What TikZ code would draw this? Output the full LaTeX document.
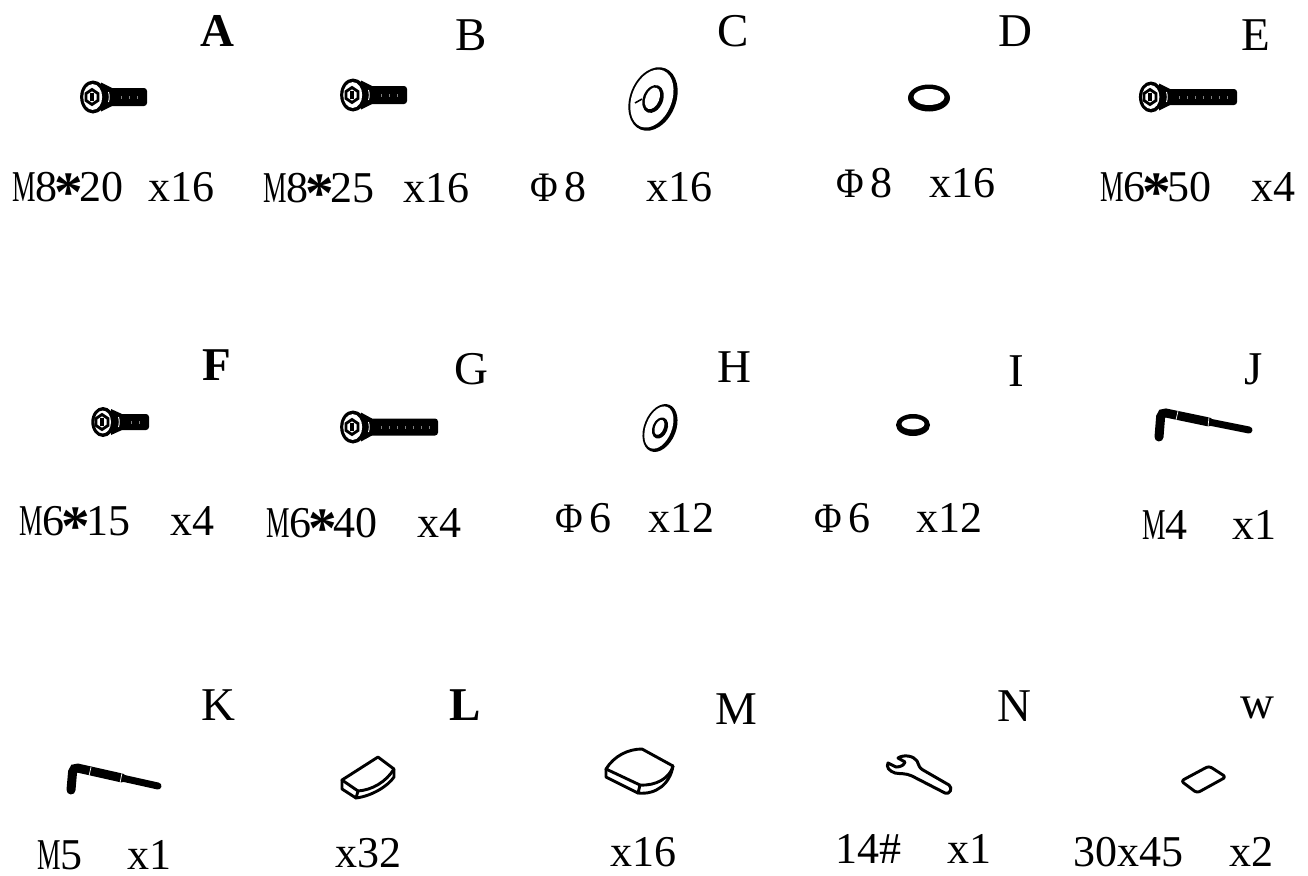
\documentclass[tikz,border=0pt]{standalone}
\usepackage{fontspec}
\usetikzlibrary{arrows.meta, positioning, calc}
\setmainfont{Liberation Serif}
\newfontfamily\phifont[FakeStretch=0.9]{Liberation Serif}
\newcommand{\phisign}{{\phifont\fontsize{42pt}{42pt}\selectfont Φ}}
\newcommand{\thinm}{\scalebox{0.6}[1]{M}}
\newcommand{\boldstar}{\makebox[22pt]{\raisebox{-10pt}{\scalebox{1.3}{\textbf{*}}}}}
\tikzset{
  letter/.style={inner sep=0pt, font=\fontsize{47pt}{47pt}\selectfont},
  letterbold/.style={letter, font=\fontsize{47pt}{47pt}\selectfont\bfseries},
  qty/.style={anchor=base west, inner sep=0pt, text depth=0pt, font=\fontsize{44pt}{44pt}\selectfont},
  partline/.style={draw=black, line width=2.9pt, line join=round, line cap=round},
  pics/bolt/.style n args={3}{code={
    \fill[black, rounded corners=3pt] (10,-#3) rectangle (#1,#3);
    \fill[black] (8,-#2+2) -- (19,-#3) -- (19,#3) -- (8,#2-2) -- cycle;
    \foreach \i in {28,36,...,#1} {
      \ifnum\i<\numexpr#1-4\relax
        \fill[gray] (\i,-1.5) rectangle +(0.7,3);
      \fi
    }
    \draw[white, line width=0.9pt] (15.5,-5) to[bend left=15] (15.5,5);
    \fill[black] (0,0) ellipse[x radius=#2*0.78, y radius=#2];
    \fill[white] (-0.3,0) ellipse[x radius=#2*0.78-3.4, y radius=#2-3.6];
    \draw[black, line width=2.8pt, fill=white] (-7,-3.5) -- (-1,-7.5) -- (5,-3.5)
      -- (5,3.5) -- (-1,7.5) -- (-7,3.5) -- cycle;
    \fill[black] (-2.6,-4) rectangle (0.6,4);
  }},
  pics/washer/.style n args={4}{code={
    \begin{scope}[rotate=-22]
      \fill[black] (0,0) ellipse[x radius=#1, y radius=#2];
      \fill[white] (-1.2,0) ellipse[x radius=#1-3.1, y radius=#2-2.8];
      \fill[black] (0,0) ellipse[x radius=#3, y radius=#4];
      \fill[white] (-0.8,-0.4) ellipse[x radius=#3-3.2, y radius=#4-3.2];
    \end{scope}
  }},
  pics/ring/.style n args={2}{code={
    \fill[black] (0,0) ellipse[x radius=#1, y radius=#2];
    \fill[white] (0,-1) ellipse[x radius=#1-5.5, y radius=#2-5.5];
  }}
}
\begin{document}
\begin{tikzpicture}[x=1pt, y=-1pt]
  \useasboundingbox (0,0) rectangle (1308,875);
  % row one
  \node[letterbold] (lettera) at (217,31) {A};
  \node[letter] (letterb) at (471,35) {B};
  \node[letter] (letterc) at (733,31) {C};
  \node[letter] (letterd) at (1015,31) {D};
  \node[letter] (lettere) at (1256,35) {E};
  \pic at (93,97) {bolt={54}{16.5}{9}};
  \pic at (353,95) {bolt={54}{16.5}{9}};
  \pic at (653,99) {washer={23}{33}{10}{14.5}};
  \draw[black, line width=1.6pt] (635,103) -- (642,99);
  \pic at (929,98) {ring={21}{13.5}};
  \pic at (1151,97) {bolt={86}{15.5}{8}};
  \node[qty] (qtya) at (12,201) {\thinm 8\boldstar 20\hspace{25pt}x16};
  \node[qty] (qtyb) at (263,202) {\thinm 8\boldstar 25\hspace{29pt}x16};
  \node[qty] (qtyc) at (530,201) {\phisign\hspace{7pt}8\hspace{60pt}x16};
  \node[qty] (qtyd) at (836,197) {\phisign\hspace{7pt}8\hspace{37pt}x16};
  \node[qty] (qtye) at (1100,201) {\thinm 6\boldstar 50\hspace{40pt}x4};
  % row two
  \node[letterbold] (letterf) at (217,365) {F};
  \node[letter] (letterg) at (471,369) {G};
  \node[letter] (letterh) at (734,367) {H};
  \node[letter] (letteri) at (1016,371) {I};
  \node[letter] (letterj) at (1254,369) {J};
  \pic at (103,422) {bolt={46}{15}{8}};
  \pic at (353,427) {bolt={85}{16.5}{8.5}};
  \pic at (660,428) {washer={16}{25}{7.5}{11}};
  \pic at (913,425) {ring={17}{11}};
  \node[qty] (qtyf) at (19,535) {\thinm 6\boldstar 15\hspace{40pt}x4};
  \node[qty] (qtyg) at (266,537) {\thinm 6\boldstar 40\hspace{40pt}x4};
  \node[qty] (qtyh) at (555,532) {\phisign\hspace{7pt}6\hspace{37pt}x12};
  \node[qty] (qtyi) at (814,532) {\phisign\hspace{7pt}6\hspace{46pt}x12};
  \node[qty] (qtyj) at (1142,539) {\thinm 4\hspace{45pt}x1};
  % hex keys
  \draw[black, line width=9pt, line cap=round, rounded corners=5pt] (1159,437) -- (1161,412) -- (1209,422);
  \draw[black, line width=7pt, line cap=round] (1209,422) -- (1249,430);
  \draw[white, line width=0.7pt] (1178,411) -- (1176,420) (1209,417) -- (1208,427);
  \draw[black, line width=9pt, line cap=round, rounded corners=5pt] (71,790) -- (73,767) -- (122,778);
  \draw[black, line width=7pt, line cap=round] (122,778) -- (158,786);
  \draw[white, line width=0.7pt] (91,767) -- (89,776) (122,773) -- (120,783);
  % row three
  \node[letter] (letterk) at (218,705) {K};
  \node[letterbold] (letterl) at (465,705) {L};
  \node[letter] (letterm) at (736,709) {M};
  \node[letter] (lettern) at (1014,706) {N};
  \node[letter] (letterw) at (1257,708) {w};
  \draw[partline] (342,780) -- (378,757) -- (394,769) .. controls (386,782) and (372,790) .. (358,791) -- cycle;
  \draw[partline] (342,780) -- (342,789) -- (356,798) .. controls (372,796) and (388,786) .. (394,777) -- (394,769);
  \draw[partline] (358,791) -- (356,798);
  \draw[partline] (606,769) .. controls (614,756) and (628,749) .. (642,749) -- (673,766)
    .. controls (670,778) and (656,786) .. (640,785) -- cycle;
  \draw[partline] (606,769) -- (606,777) -- (638,793) .. controls (656,795) and (670,784) .. (673,766);
  \draw[partline] (640,785) -- (638,793);
  \draw[partline, line width=3pt] (898,758) .. controls (904,754) and (914,756) .. (917,761)
    .. controls (919,765) and (919,768) .. (923,770) -- (949,785)
    .. controls (953,788) and (950,795) .. (945,793) -- (912,776)
    .. controls (906,773) and (900,774) .. (895,773) .. controls (889,771) and (886,767) .. (888,763)
    -- (896,767) .. controls (901,767) and (904,765) .. (905,762) -- cycle;
  \draw[partline, rounded corners=3pt] (1181,781) -- (1209,766) -- (1226,777) -- (1197,793) -- cycle;
  \node[qty] (qtyk) at (37,869) {\thinm 5\hspace{45pt}x1};
  \node[qty] (qtyl) at (335,867) {x32};
  \node[qty] (qtym) at (610,866) {x16};
  \node[qty] (qtyn) at (835,863) {14\#\hspace{46pt}x1};
  \node[qty] (qtyw) at (1073,866) {30x45\hspace{46pt}x2};
\end{tikzpicture}
\end{document}
